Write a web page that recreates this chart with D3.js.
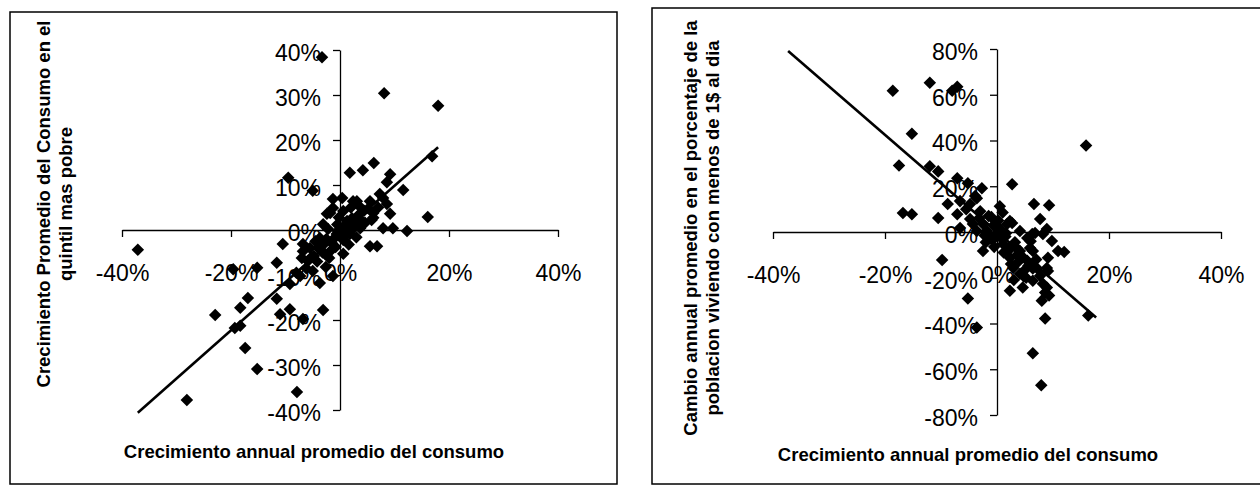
<!DOCTYPE html>
<html>
<head>
<meta charset="utf-8">
<script src="https://cdn.jsdelivr.net/npm/d3@7"></script>
<style>
  html, body { margin: 0; padding: 0; background: #fff; }
  svg { display: block; }
</style>
</head>
<body>
<svg id="chart" width="1260" height="487"></svg>
<script>
// ---------------- DATA (values in %) ----------------
const xTickValues = [-40, -20, 0, 20, 40];
const leftYTickValues = [-40, -30, -20, -10, 0, 10, 20, 30, 40];
const rightYTickValues = [-80, -60, -40, -20, 0, 20, 40, 60, 80];

const leftX = [-37.1,-28.1,-22.9,-19.6,-18.3,-16.9,-19.3,-18.3,-17.4,-15.2,-15.2,-11.6,-10.5,-11.6,-11.0,-9.2,-6.8,-3.1,-7.9,-9.2,
  -7.3,-5.0,-1.3,-3.7,-5.9,-6.8,-9.5,-5.0,-3.3,8.1,18.0,16.9,16.1,12.3,11.6,9.2,6.2,4.2,1.8,5.5,
  6.8,0.4,3.1,5.5,7.3,8.6,9.2,9.7,7.9,6.1,3.7,1.3,-1.3,-2.4,-3.1,-3.7,-0.6,1.8,-5.5,-1.8,
  0.6,-1.8,0.6,6.1,7.9,-1.3,2.4,-6.8,-4.5,-2.5,0.0,1.0,2.2,3.3,4.4,2.6,-0.5,-2.0,-3.2,-4.2,
  0.6,1.6,3.0,4.6,5.2,3.6,2.0,-2.6,8.6,7.0,-0.2,-4.0,-1.0,-3.0,-0.8,1.2,-6.2,-8.0,
  -2.2,-0.4,0.8,2.8,4.0,5.8,-5.2,-3.6,-1.6,0.2,1.8,3.4,-7.0,-4.8,-2.8];
const leftY = [-4.4,-37.8,-18.9,-8.7,-17.3,-15.1,-21.8,-21.3,-26.2,-30.9,-8.4,-7.3,-3.1,-15.3,-18.7,-17.6,-19.8,-17.8,-36.0,-12.0,
  -10.2,-9.1,-10.2,-11.8,-6.9,-3.1,11.6,8.7,38.4,30.4,27.6,16.4,2.9,-0.2,8.9,12.4,14.9,13.3,12.7,-3.6,
  -3.6,7.1,6.4,6.4,8.0,5.8,3.6,0.4,0.4,2.7,0.4,2.0,4.9,3.6,1.3,-1.8,-0.9,-0.9,-4.0,-4.7,
  -5.3,3.8,4.2,3.8,7.1,6.9,6.4,-4.7,-2.5,-2.0,0.0,1.2,2.6,3.2,4.3,0.6,1.2,-6.2,-5.0,-7.0,
  -2.2,-3.2,-1.6,1.6,4.8,5.2,5.0,-8.2,10.6,5.0,2.8,-4.0,-1.8,-3.0,-3.8,-1.0,-8.5,-9.5,
  0.2,-0.2,0.6,1.8,2.0,2.2,-6.0,-3.8,-2.8,-1.2,-0.2,1.6,-6.2,-5.8,-5.2];
const leftTrendX = [-37.1, 18.0];
const leftTrendY = [-40.6, 18.4];

const rightX = [-18.6,-12.0,-7.1,-8.0,-15.2,-17.5,-12.0,-10.5,-7.1,-5.2,-2.7,2.7,6.6,9.3,-16.8,-15.2,-10.5,-8.8,-4.8,-3.6,
  0.5,-9.8,-5.2,-3.6,6.4,7.9,8.6,8.0,9.3,8.9,9.8,6.3,10.9,-7.1,-4.8,-2.5,2.3,-1.3,2.9,2.3,
  4.6,6.4,7.7,8.9,8.9,7.1,4.1,5.9,-6.6,-3.9,2.7,7.7,6.8,8.2,-3.6,-2.5,-0.2,1.1,2.3,4.1,
  5.4,6.4,8.2,-3.0,-4.3,-6.6,1.8,4.1,5.4,15.9,16.3,12.0,9.1,9.1,8.6,-1.0,0.5,1.5,3.2,-2.0,
  3.5,-0.5,1.0,-5.5,0.0,1.2,2.5,3.8,5.0,6.0,-1.8,-0.8,0.8,2.0,3.0,4.8,-3.2,-2.2,
  -1.5,0.2,1.6,2.8,4.4,5.6,7.0,-0.6,0.8,2.2,3.6,5.2,6.4];
const rightY = [61.7,65.2,63.5,61.7,43.0,29.1,28.7,26.5,23.5,21.3,19.1,20.9,12.2,11.7,8.3,7.8,6.1,12.2,12.2,14.8,
  11.3,-12.2,-29.1,-41.7,-53.0,-67.0,-37.8,-30.0,-27.8,1.3,-3.9,-0.9,-8.3,7.8,5.7,3.5,4.8,-2.6,-15.7,-25.7,
  -24.3,-21.3,-19.1,-15.7,-24.3,-15.7,-8.3,-7.0,13.5,15.7,3.9,5.7,-0.4,-0.9,0.4,-8.3,-0.9,-5.2,-11.3,-18.3,
  -12.6,-8.3,-22.6,9.1,3.5,1.7,3.5,0.4,-2.6,37.8,-36.5,-8.7,-11.3,-17.0,-26.5,6.5,1.5,-2.0,-4.5,-4.5,
  -7.0,-6.5,8.5,10.0,2.5,-9.0,-14.0,-13.0,-16.5,-4.0,0.5,-3.5,-1.0,-7.5,-21.0,-19.5,6.0,-1.5,
  7.0,5.0,-0.5,-5.8,-10.5,-14.8,-12.0,3.0,-2.8,-7.8,-10.0,-20.0,-16.0];
const rightTrendX = [-37.3, 17.7];
const rightTrendY = [79.1, -37.4];

const xTitle = "Crecimiento annual promedio del consumo";
const leftYTitle = ["Crecimiento Promedio del Consumo en el", "quintil mas pobre"];
const rightYTitle = ["Cambio annual promedio en el porcentaje de la", "poblacion viviendo con menos de 1$ al dia"];

// ---------------- DRAWING ----------------
const svg = d3.select("#chart");
const FONT = '"Liberation Sans", Arial, Helvetica, sans-serif';
svg.append("rect").attr("width", 1260).attr("height", 487).attr("fill", "#fff");

// panel frames
svg.append("rect").attr("x", 10).attr("y", 12).attr("width", 607).attr("height", 472)
  .attr("fill", "none").attr("stroke", "#000").attr("stroke-width", 1.5);
svg.append("rect").attr("x", 652).attr("y", 8).attr("width", 640).attr("height", 476)
  .attr("fill", "none").attr("stroke", "#000").attr("stroke-width", 1.5);

const fmt = d => d + "%";
const diamond = d3.symbol().type(d3.symbolDiamond2).size(100);

function panel(cfg) {
  const x = d3.scaleLinear().domain([-40, 40]).range(cfg.xRange);
  const y = d3.scaleLinear().domain(cfg.yDomain).range(cfg.yRange);
  const g = svg.append("g");

  const xAxis = d3.axisBottom(x).tickValues(xTickValues).tickFormat(fmt)
    .tickSize(7).tickSizeOuter(0).tickPadding(28);
  const gx = g.append("g").attr("transform", `translate(0,${y(0)})`).call(xAxis);

  const yAxis = d3.axisLeft(y).tickValues(cfg.yTicks).tickFormat(fmt)
    .tickSize(7).tickSizeOuter(0).tickPadding(12);
  const gy = g.append("g").attr("transform", `translate(${x(0)},0)`).call(yAxis);
  gy.selectAll(".tick text").attr("dy", "0.45em");

  [gx, gy].forEach(a => {
    a.select(".domain").attr("stroke", "#000").attr("stroke-width", 1.3);
    a.selectAll(".tick line").attr("stroke", "#000").attr("stroke-width", 1.3);
    a.selectAll(".tick text").attr("fill", "#000").attr("font-size", 23).attr("font-family", FONT);
  });

  // points
  g.append("g").selectAll("path").data(cfg.xs.map((v, i) => [v, cfg.ys[i]])).join("path")
    .attr("d", diamond)
    .attr("transform", d => `translate(${x(d[0])},${y(d[1])})`)
    .attr("fill", "#000");

  // trend line
  const line = d3.line().x(d => x(d[0])).y(d => y(d[1]));
  g.append("path").datum(cfg.tx.map((v, i) => [v, cfg.ty[i]]))
    .attr("d", line).attr("fill", "none").attr("stroke", "#000").attr("stroke-width", 2.6);

  // titles
  g.append("text").attr("x", cfg.xTitlePos[0]).attr("y", cfg.xTitlePos[1])
    .attr("text-anchor", "middle").attr("font-family", FONT).attr("font-weight", "bold")
    .attr("font-size", 18.5).text(xTitle);
  cfg.yTitle.forEach((t, i) => {
    g.append("text")
      .attr("transform", `translate(${cfg.yTitleX[i]},${cfg.yTitleCY}) rotate(-90)`)
      .attr("text-anchor", "middle").attr("font-family", FONT).attr("font-weight", "bold")
      .attr("font-size", 18.5).text(t);
  });
}

panel({
  xRange: [122, 558], yDomain: [-40, 40], yRange: [410, 50], yTicks: leftYTickValues,
  xs: leftX, ys: leftY, tx: leftTrendX, ty: leftTrendY,
  xTitlePos: [314, 458], yTitle: leftYTitle, yTitleX: [49.5, 71.5], yTitleCY: 204
});
panel({
  xRange: [773, 1221], yDomain: [-80, 80], yRange: [415, 49], yTicks: rightYTickValues,
  xs: rightX, ys: rightY, tx: rightTrendX, ty: rightTrendY,
  xTitlePos: [968, 461], yTitle: rightYTitle, yTitleX: [696.5, 718.5], yTitleCY: 228
});
</script>
</body>
</html>
